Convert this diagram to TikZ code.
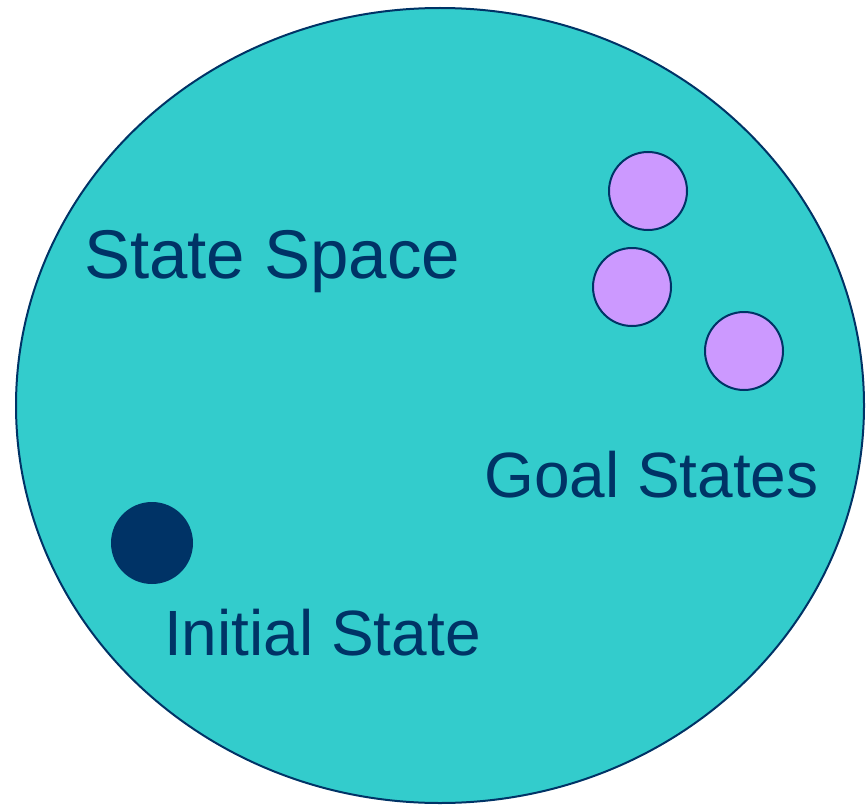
\documentclass[tikz,border=0pt]{standalone}
\usepackage{fontspec}
\setmainfont{Liberation Sans}
\definecolor{teal}{HTML}{33CCCC}
\definecolor{navy}{HTML}{003366}
\definecolor{lilac}{HTML}{CC99FF}
\tikzset{
  goal/.style={circle,draw=navy,line width=2pt,fill=lilac,inner sep=0pt,minimum size=78pt},
  label/.style={text=navy,inner sep=0pt,anchor=base west}
}
\begin{document}
\begin{tikzpicture}[x=1pt,y=-1pt]
    \useasboundingbox (0,0) rectangle (866,805);
    \draw [navy, line width=2pt, fill=teal] (440,405.5) ellipse [x radius=424, y radius=397.5];
    \node [label, font=\fontsize{69}{69}\selectfont] (space) at (84,278) {State Space};
    \node [goal] (g1) at (648,191) {};
    \node [goal] (g2) at (632,287) {};
    \node [goal] (g3) at (744,351) {};
    \node [label, font=\fontsize{64}{64}\selectfont] (goals) at (484,497) {Goal States};
    \node [circle, fill=navy, inner sep=0pt, minimum size=82pt] (init) at (152,543) {};
    \node [label, font=\fontsize{64}{64}\selectfont] (initlabel) at (164,655) {Initial State};
  \end{tikzpicture}
\end{document}
